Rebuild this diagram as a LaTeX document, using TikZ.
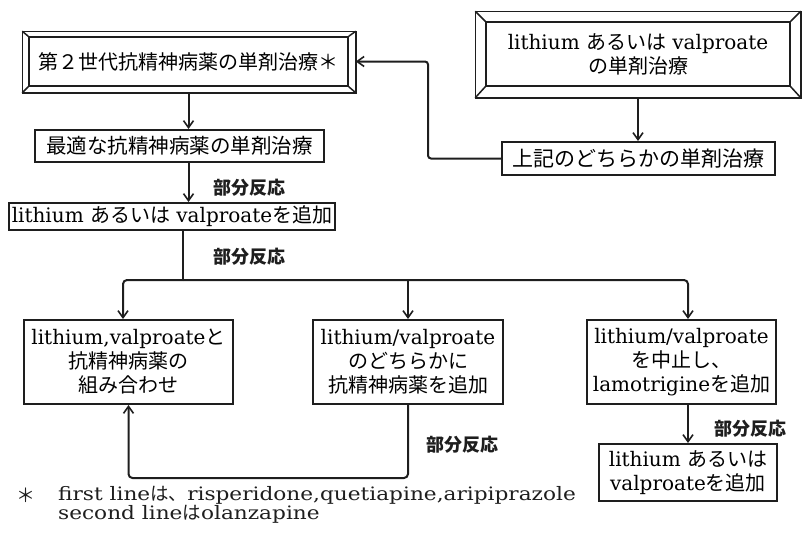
\documentclass[tikz,border=0pt]{standalone}
\usepackage{fontspec}
\setmainfont{DejaVu Serif}
\newfontfamily\jpfont{Noto Sans CJK JP}
\newfontfamily\fnfont[FakeStretch=1.17]{DejaVu Serif}
\newfontfamily\fnjpfont[FakeStretch=1.0]{Noto Sans CJK JP}
\newcommand{\J}[1]{{\jpfont #1}}
\newcommand{\FJ}[1]{{\fnjpfont #1}}
\usetikzlibrary{arrows.meta}
\definecolor{ink}{HTML}{1E1E1E}
\tikzset{
  box/.style={draw=ink, line width=2pt, inner sep=0pt, align=center, font=\fontsize{20}{24}\selectfont},
  arr/.style={draw=ink, line width=2pt, -{Straight Barb[length=7pt,width=10pt,line width=1.6pt]}},
  ln/.style={draw=ink, line width=2pt},
  lab/.style={font=\fontsize{18}{18}\selectfont\jpfont\bfseries, inner sep=0pt, text=ink},
  bevel/.style={draw=ink, line width=1.5pt}
}
\newcommand{\bevelframe}[5]{%
  \coordinate (#1-onw) at ([xshift=-#2,yshift=#3]#1.north west);
  \coordinate (#1-ose) at ([xshift=#4,yshift=-#5]#1.south east);
  \draw[bevel] (#1-onw) rectangle (#1-ose);
  \draw[bevel] (#1-onw) -- (#1.north west) (#1-ose) -- (#1.south east)
    (#1-onw -| #1-ose) -- (#1.north east) (#1-onw |- #1-ose) -- (#1.south west);
}
\begin{document}
\begin{tikzpicture}[x=1pt,y=-1pt]
\useasboundingbox (0,0) rectangle (802,533);

% top left bevelled box
\node[box, bevel, minimum width=319pt, minimum height=49pt] (b1) at (188.5,61.5) {\J{第２世代抗精神病薬の単剤治療＊}};
\bevelframe{b1}{6pt}{5pt}{7pt}{6pt}

% top right bevelled box
\node[box, bevel, minimum width=304pt, minimum height=64pt] (b0) at (638,54) {lithium \J{あるいは} valproate\\\J{の単剤治療}};
\bevelframe{b0}{10pt}{10pt}{10pt}{11pt}

\node[box, minimum width=273pt, minimum height=33pt, font=\fontsize{21}{24}\selectfont] (babove) at (638.5,158.5) {\J{上記のどちらかの単剤治療}};
\node[box, minimum width=289pt, minimum height=32pt, font=\fontsize{20.5}{24}\selectfont] (b2) at (179.5,146) {\J{最適な抗精神病薬の単剤治療}};
\node[box, minimum width=326pt, minimum height=27pt] (b3) at (172,216.5) {lithium \J{あるいは} valproate\J{を追加}};

\node[box, minimum width=209pt, minimum height=84pt] (b4) at (128.5,362) {lithium,valproate\J{と}\\\J{抗精神病薬の}\\\J{組み合わせ}};
\node[box, minimum width=190pt, minimum height=84pt] (b5) at (408,362) {lithium/valproate\\\J{のどちらかに}\\\J{抗精神病薬を追加}};
\node[box, minimum width=189pt, minimum height=84pt] (b6) at (681.5,362) {lithium/valproate\\\J{を中止し、}\\lamotrigine\J{を追加}};
\node[box, minimum width=178pt, minimum height=57pt] (b7) at (688,472.5) {lithium \J{あるいは}\\valproate\J{を追加}};

% connectors
\coordinate (b1b) at ([yshift=-6pt]b1.south);
\draw[arr] (b1b) -- (b1b |- b2.north);
\draw[arr] (b1b |- b2.south) -- (b1b |- b3.north);
\coordinate (split) at (183,280);
\draw[ln] (b3.south -| split) -- (split);
\draw[arr, rounded corners=4pt] (split) -| ([xshift=-5.5pt]b4.north);
\draw[arr, rounded corners=4pt] (split) -| ([xshift=6.5pt]b6.north);
\draw[arr] (split -| b5.north) -- (b5.north);
\draw[arr] (b6.south -| b7.north) -- (b7.north);
\draw[arr, rounded corners=4pt] (b5.south) -- ([yshift=-73pt]b5.south) -| (b4.south);
\coordinate (b0b) at ([yshift=-11pt]b0.south);
\draw[arr] (b0b) -- (b0b |- babove.north);
\coordinate (b1e) at ([xshift=7pt]b1.east);
\draw[arr, rounded corners=3pt] (babove.west) -- ([xshift=-73pt]babove.west) |- (b1e);

% labels
\node[lab] (l1) at (249,188) {部分反応};
\node[lab] (l2) at (249,257) {部分反応};
\node[lab] (l3) at (462,445) {部分反応};
\node[lab] (l4) at (750,429) {部分反応};

% footnote
\node[font=\fontsize{19}{19}\selectfont\jpfont, inner sep=0pt, text=ink] (star) at (26,495) {＊};
\node[anchor=north west, align=left, font=\fontsize{18.5}{18}\selectfont\fnfont, inner sep=0pt, text=ink] (fn) at (58,486) {first line\FJ{は、}risperidone,quetiapine,aripiprazole\\second line\FJ{は}olanzapine};
\end{tikzpicture}
\end{document}
